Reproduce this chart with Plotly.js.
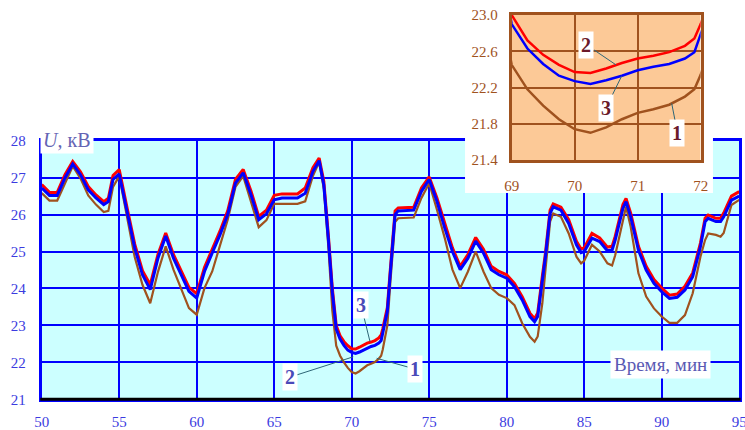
<!DOCTYPE html>
<html><head><meta charset="utf-8">
<script src="https://cdn.plot.ly/plotly-3.0.1.min.js"></script>
<style>html,body{margin:0;padding:0;background:#fff}#chart{width:745px;height:430px}</style>
</head><body><div id="chart"></div>
<script>
// Time, min
const time = [
  50,50.5,51,51.5,52,52.5,53,53.5,54,54.3,
  54.6,55,55.5,56,56.5,57,57.5,58,58.5,59,
  59.5,60,60.5,61,61.5,62,62.5,63,63.5,64,
  64.5,65,65.5,66,66.5,67,67.5,67.9,68.2,68.5,
  68.75,69,69.25,69.5,69.75,70,70.25,70.5,70.75,71,
  71.25,71.5,71.75,71.9,72,72.3,72.5,72.8,73,73.5,
  74,74.5,75,75.5,76,76.5,77,77.5,78,78.5,
  79,79.5,80,80.5,81,81.5,81.8,82,82.3,82.5,
  82.8,83,83.5,84,84.5,84.8,85,85.5,86,86.5,
  86.8,87,87.5,87.7,88,88.5,89,89.5,90,90.5,
  91,91.5,92,92.5,92.8,93,93.5,93.8,94,94.5,95
];
// Curve 1 (brown)
const u1 = [
  26.58,26.38,26.38,26.85,27.31,26.98,26.52,26.27,26.07,26.10,
  26.75,27.04,25.95,24.85,24.10,23.60,24.45,25.14,24.51,23.97,
  23.47,23.29,24.01,24.46,25.18,25.86,26.75,27.04,26.35,25.66,
  25.85,26.29,26.29,26.29,26.29,26.36,27.05,27.42,26.70,25.10,
  23.40,22.45,22.18,22.00,21.85,21.74,21.70,21.76,21.85,21.92,
  21.96,22.01,22.10,22.18,22.34,23.00,24.20,25.80,25.90,25.90,
  25.92,26.45,26.85,26.13,25.37,24.51,24.01,24.46,25.00,24.46,
  24.01,23.83,23.74,23.55,23.06,22.69,22.56,22.70,23.60,24.50,
  25.81,26.03,25.94,25.49,24.86,24.68,24.75,25.18,25.00,24.68,
  24.62,24.90,25.90,26.21,25.67,24.41,23.78,23.46,23.24,23.07,
  23.07,23.28,23.87,24.86,25.31,25.49,25.45,25.40,25.50,26.26,26.40
];
// Curve 2 (red)
const u2 = [
  26.81,26.60,26.60,27.08,27.44,27.16,26.76,26.53,26.35,26.44,
  27.06,27.22,26.20,25.20,24.48,24.10,24.92,25.50,24.92,24.47,
  24.03,23.86,24.57,25.06,25.55,26.10,26.95,27.22,26.64,25.95,
  26.12,26.52,26.56,26.56,26.56,26.72,27.27,27.53,26.90,25.40,
  24.00,23.00,22.72,22.56,22.45,22.37,22.36,22.41,22.47,22.52,
  22.55,22.59,22.66,22.74,22.90,23.48,24.56,26.10,26.18,26.18,
  26.20,26.72,27.02,26.45,25.74,25.10,24.60,24.92,25.38,25.06,
  24.60,24.46,24.37,24.14,23.78,23.33,23.18,23.34,24.33,24.96,
  26.12,26.29,26.20,25.86,25.28,25.07,25.10,25.49,25.37,25.12,
  25.14,25.41,26.27,26.44,26.04,25.14,24.60,24.24,24.01,23.82,
  23.85,24.06,24.42,25.23,25.90,25.99,25.90,25.90,26.04,26.50,26.62
];
// Curve 3 (blue)
const u3 = [
  26.72,26.52,26.52,26.99,27.37,27.08,26.67,26.45,26.27,26.35,
  26.95,27.10,26.09,25.10,24.37,23.97,24.82,25.42,24.82,24.37,
  23.92,23.74,24.46,24.96,25.45,26.00,26.85,27.13,26.54,25.86,
  26.02,26.40,26.45,26.45,26.45,26.58,27.17,27.46,26.80,25.30,
  23.90,22.90,22.63,22.46,22.33,22.27,22.24,22.28,22.33,22.39,
  22.43,22.46,22.52,22.59,22.80,23.38,24.46,26.00,26.10,26.10,
  26.12,26.63,26.95,26.36,25.64,25.00,24.51,24.82,25.28,24.96,
  24.51,24.37,24.28,24.05,23.69,23.24,23.10,23.24,24.23,24.86,
  26.03,26.21,26.12,25.76,25.18,24.97,25.00,25.36,25.27,25.02,
  25.04,25.31,26.17,26.35,25.94,25.04,24.50,24.14,23.91,23.73,
  23.76,23.96,24.32,25.13,25.81,25.90,25.81,25.81,25.94,26.39,26.50
];
const xTicks = [50,55,60,65,70,75,80,85,90,95];
const yTicks = [21,22,23,24,25,26,27,28];
const insetXTicks = [69,70,71,72];
const insetYTicks = [21.4,21.8,22.2,22.6,23.0];
const curveLabels = ['1','2','3'];

const SERIF = '"Liberation Serif", "Times New Roman", serif';
const BLUE = '#0000ff', BROWN = '#a0521e', RED = '#ff0000';

function curve(y, color, width, xa, ya) {
  return {x: time, y: y, type: 'scatter', mode: 'lines', xaxis: xa, yaxis: ya,
          line: {color: color, width: width, shape: 'linear'}, hoverinfo: 'skip', showlegend: false};
}

const traces = [
  curve(u1, BROWN, 2.2, 'x', 'y'),
  curve(u2, RED, 3, 'x', 'y'),
  curve(u3, BLUE, 3, 'x', 'y'),
  {x: [], y: [], type: 'scatter', xaxis: 'x2', yaxis: 'y2', showlegend: false, hoverinfo: 'skip'},
  curve(u1, BROWN, 2.5, 'x3', 'y3'),
  curve(u2, RED, 2.5, 'x3', 'y3'),
  curve(u3, BLUE, 2.5, 'x3', 'y3')
];

const mainTickFont = {family: SERIF, size: 15, color: '#3b3be0'};
const insetTickFont = {family: SERIF, size: 15, color: '#a0521e'};

function lbl(text, xref, yref, x, y, ax, ay, color, arrowColor) {
  return {text: '<b>' + text + '</b>', xref: xref, yref: yref, x: x, y: y, ax: ax, ay: ay,
          showarrow: true, arrowhead: 0, arrowwidth: 1, arrowcolor: arrowColor, standoff: 0,
          font: {family: SERIF, size: 20, color: color}, bgcolor: '#ffffff', borderpad: 2};
}

const layout = {
  width: 745, height: 430,
  margin: {l: 0, r: 0, t: 0, b: 0},
  paper_bgcolor: '#ffffff', plot_bgcolor: '#ffffff',
  showlegend: false,
  xaxis: {domain: [0.056, 0.9922], range: [50, 95], anchor: 'y', tickvals: xTicks,
          showgrid: true, gridcolor: BLUE, gridwidth: 2, zeroline: false,
          showline: true, linecolor: BLUE, linewidth: 3, mirror: true, ticks: '',
          tickfont: mainTickFont, ticklabelstandoff: 7, ticklabeloverflow: 'allow'},
  yaxis: {domain: [0.0714, 0.6728], range: [21, 28], anchor: 'x', tickvals: yTicks,
          showgrid: true, gridcolor: BLUE, gridwidth: 2, zeroline: false,
          showline: true, linecolor: BLUE, linewidth: 3, mirror: true, ticks: '',
          tickfont: mainTickFont, ticklabelstandoff: 10, ticklabeloverflow: 'allow'},
  xaxis2: {domain: [0.6242, 0.957], range: [0, 1], anchor: 'y2', visible: false, showgrid: false, zeroline: false},
  yaxis2: {domain: [0.5512, 1.0], range: [0, 1], anchor: 'x2', visible: false, showgrid: false, zeroline: false},
  xaxis3: {domain: [0.6868, 0.9405], range: [69, 72], anchor: 'y3', tickvals: insetXTicks,
           showgrid: true, gridcolor: BROWN, gridwidth: 2, zeroline: false,
           showline: true, linecolor: BROWN, linewidth: 3, mirror: true, ticks: '',
           tickfont: insetTickFont, ticklabelstandoff: 10, ticklabeloverflow: 'allow'},
  yaxis3: {domain: [0.6279, 0.9651], range: [21.4, 23.0], anchor: 'x3', tickvals: insetYTicks,
           tickformat: '.1f',
           showgrid: true, gridcolor: BROWN, gridwidth: 2, zeroline: false,
           showline: true, linecolor: BROWN, linewidth: 3, mirror: true, ticks: '',
           tickfont: insetTickFont, ticklabelstandoff: 8, ticklabeloverflow: 'allow'},
  shapes: [
    {type: 'rect', xref: 'x', yref: 'y', x0: 50, x1: 95, y0: 21, y1: 28,
     fillcolor: '#ccffff', line: {width: 0}, layer: 'below'},
    {type: 'rect', xref: 'x3', yref: 'y3', x0: 69, x1: 72, y0: 21.4, y1: 23.0,
     fillcolor: '#fcc997', line: {width: 0}, layer: 'below'},
    {type: 'line', xref: 'paper', yref: 'paper', x0: 0.054, x1: 0.994, y0: 0.0714, y1: 0.0714,
     line: {color: '#000000', width: 3}, layer: 'above'}
  ],
  annotations: [
    {text: '<i>U</i>, кВ', xref: 'paper', yref: 'paper', x: 0.0899, y: 0.6744,
     xanchor: 'center', yanchor: 'middle', showarrow: false,
     font: {family: SERIF, size: 20, color: '#6464b4'}, bgcolor: '#ffffff', borderpad: 2},
    {text: 'Время, мин', xref: 'paper', yref: 'paper', x: 0.8866, y: 0.1523,
     xanchor: 'center', yanchor: 'middle', showarrow: false,
     font: {family: SERIF, size: 19, color: '#5a5ab4'}, bgcolor: '#ffffff', borderpad: 3},
    lbl(curveLabels[2], 'x', 'y', 71.18, 22.56, -9, -36.7, '#4a4ab8', '#2e6677'),
    lbl(curveLabels[1], 'x', 'y', 70.1, 22.15, -63.3, 20.3, '#4a4ab8', '#2e6677'),
    lbl(curveLabels[0], 'x', 'y', 71.61, 22.11, 38.3, 10.7, '#4a4ab8', '#2e6677'),
    lbl(curveLabels[1], 'x3', 'y3', 70.656, 22.45, -29.5, -20, '#6b1a2a', '#2e6677'),
    lbl(curveLabels[2], 'x3', 'y3', 70.746, 22.327, -15.7, 32, '#6b1a2a', '#2e6677'),
    lbl(curveLabels[0], 'x3', 'y3', 71.54, 22.025, 5.8, 29.7, '#6b1a2a', '#2e6677')
  ]
};

Plotly.newPlot('chart', traces, layout, {staticPlot: true, displayModeBar: false});
</script>
</body></html>
